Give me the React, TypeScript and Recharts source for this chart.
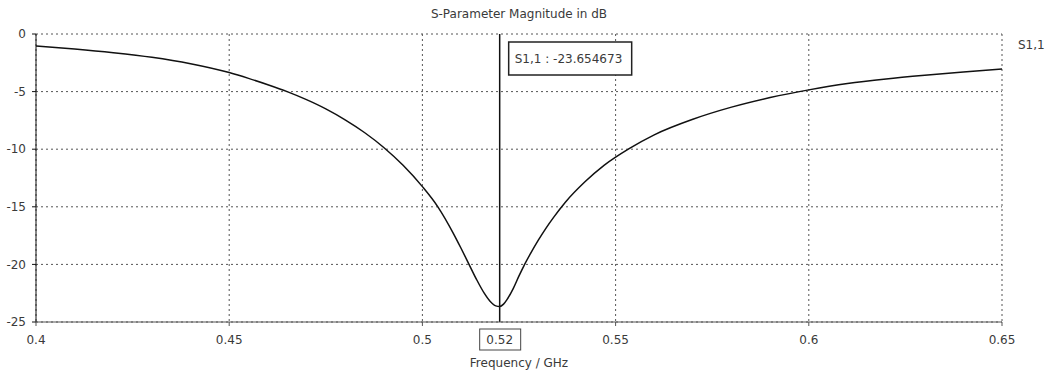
import {
  LineChart,
  Line,
  XAxis,
  YAxis,
  CartesianGrid,
  ReferenceLine,
  Label,
} from "recharts";

// S11 magnitude (frequency in GHz, magnitude in dB)
const freq = [
  0.4, 0.41, 0.42, 0.43, 0.44, 0.45, 0.455, 0.46, 0.465, 0.47, 0.475, 0.48,
  0.485, 0.49, 0.495, 0.5, 0.504, 0.508, 0.51, 0.512, 0.514, 0.516, 0.5175,
  0.519, 0.52, 0.521, 0.522, 0.5235, 0.525, 0.5263, 0.528, 0.53, 0.532, 0.534,
  0.537, 0.542, 0.547, 0.5535, 0.56, 0.57, 0.58, 0.59, 0.6, 0.61, 0.62, 0.63,
  0.64, 0.65,
];
const s11 = [
  -1.04, -1.3, -1.62, -2.02, -2.58, -3.35, -3.85, -4.4, -5.0, -5.7, -6.5, -7.45,
  -8.55, -9.85, -11.4, -13.25, -15.0, -17.3, -18.6, -19.95, -21.3, -22.5, -23.2,
  -23.6, -23.65, -23.45, -23.0, -22.1, -21.0, -20.1, -19.05, -17.9, -16.85,
  -15.9, -14.6, -12.85, -11.4, -9.95, -8.75, -7.4, -6.35, -5.52, -4.85, -4.3,
  -3.9, -3.58, -3.3, -3.04,
];

const xTicks = [0.4, 0.45, 0.5, 0.55, 0.6, 0.65];
const yTicks = [-25, -20, -15, -10, -5, 0];

const markerFreq = 0.52;
const markerLabel = "S1,1 : -23.654673";
const seriesName = "S1,1";

const chartData = freq.map((f, i) => ({ f, s11: s11[i] }));

const FONT = "'DejaVu Sans', Tahoma, sans-serif";
const TEXT = "#3a3a3a";

// draws the marker value box at the top and the boxed frequency under the axis
function MarkerLabel({ viewBox }: any) {
  const { x = 0, y = 0, height = 0 } = viewBox || {};
  return (
    <g fontFamily={FONT} fontSize={12} fill={TEXT}>
      <rect x={x + 9} y={y + 8} width={123} height={33} fill="#fff" stroke="#222" strokeWidth={1.5} />
      <text x={x + 15} y={y + 25} dominantBaseline="central">
        {markerLabel}
      </text>
      <rect x={x - 20} y={y + height + 7} width={41} height={21} fill="#fff" stroke="#444" strokeWidth={1} />
      <text x={x} y={y + height + 18} textAnchor="middle" dominantBaseline="central">
        {String(markerFreq)}
      </text>
    </g>
  );
}

export default function App() {
  return (
    <div style={{ position: "relative", width: 1056, height: 375, background: "#fff" }}>
      <style>{"body{margin:0}"}</style>
      <div
        style={{
          position: "absolute",
          left: 0,
          width: 1038,
          top: 7,
          textAlign: "center",
          fontFamily: FONT,
          fontSize: 12,
          color: TEXT,
        }}
      >
        S-Parameter Magnitude in dB
      </div>
      <div
        style={{
          position: "absolute",
          left: 1018,
          top: 38,
          fontFamily: FONT,
          fontSize: 12,
          color: TEXT,
        }}
      >
        {seriesName}
      </div>
      <LineChart
        width={1056}
        height={375}
        data={chartData}
        margin={{ top: 34, right: 54, bottom: 3, left: 0 }}
        style={{ position: "absolute", left: 0, top: 0 }}
      >
        <CartesianGrid stroke="#555" strokeDasharray="2 3" />
        <XAxis
          dataKey="f"
          type="number"
          domain={[0.4, 0.65]}
          ticks={xTicks}
          height={50}
          tickSize={4}
          tickMargin={9}
          tick={{ fill: TEXT, fontSize: 12, fontFamily: FONT }}
          stroke="#555"
          tickFormatter={(v: number) => String(v)}
        >
          <Label
            value="Frequency / GHz"
            position="insideBottom"
            offset={5}
            style={{ fill: TEXT, fontSize: 12, fontFamily: FONT }}
          />
        </XAxis>
        <XAxis
          xAxisId="top"
          orientation="top"
          type="number"
          domain={[0.4, 0.65]}
          height={0}
          tick={false}
          tickLine={false}
          stroke="#333"
        />
        <YAxis
          type="number"
          domain={[-25, 0]}
          ticks={yTicks}
          width={36}
          tickSize={4}
          tickMargin={6}
          tick={{ fill: TEXT, fontSize: 12, fontFamily: FONT }}
          stroke="#111"
        />
        <YAxis
          yAxisId="right"
          orientation="right"
          type="number"
          domain={[-25, 0]}
          width={0}
          tick={false}
          tickLine={false}
          stroke="#444"
        />
        <ReferenceLine
          x={markerFreq}
          stroke="#111"
          strokeWidth={1.5}
          label={<MarkerLabel />}
        />
        <Line
          type="monotone"
          dataKey="s11"
          stroke="#111"
          strokeWidth={1.5}
          dot={false}
          isAnimationActive={false}
        />
      </LineChart>
    </div>
  );
}
